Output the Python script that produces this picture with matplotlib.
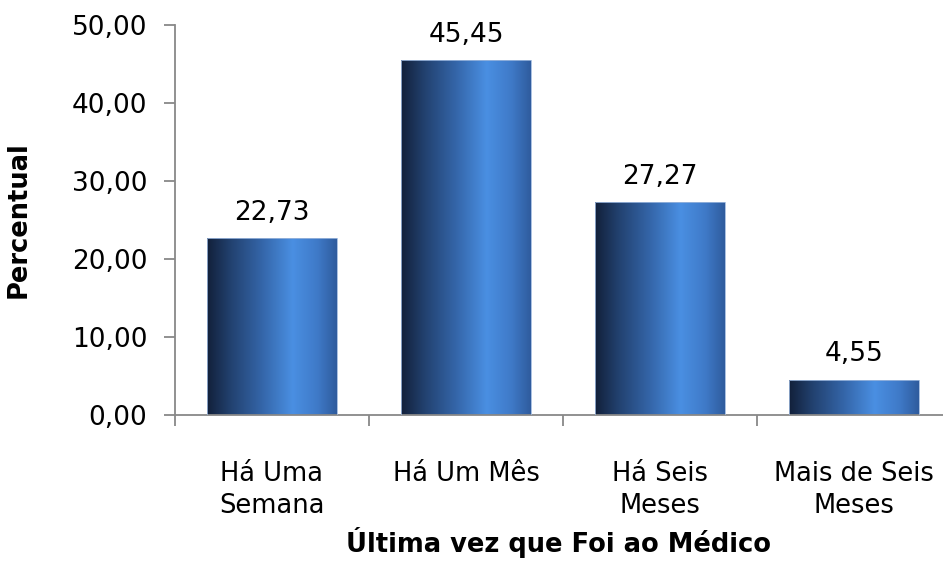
import numpy as np
import matplotlib.pyplot as plt
from matplotlib.colors import LinearSegmentedColormap
from matplotlib.patches import Rectangle

categorias = ['Há Uma\nSemana', 'Há Um Mês', 'Há Seis\nMeses', 'Mais de Seis\nMeses']
percentual = [22.73, 45.45, 27.27, 4.55]
yticks = [0, 10, 20, 30, 40, 50]

plt.rcParams['font.family'] = ['DejaVu Sans']

fig = plt.figure(figsize=(9.43, 5.61), dpi=100)
ax = fig.add_axes([175 / 943, 146 / 561, 776 / 943, 390 / 561])

# gradiente horizontal das barras
cmap = LinearSegmentedColormap.from_list('barra', [
    (0.0, '#12203a'), (0.18, '#22416f'), (0.42, '#3465a8'),
    (0.66, '#4a8fe2'), (0.85, '#3f7ac8'), (1.0, '#2f5c9e')])
grad = np.linspace(0, 1, 256).reshape(1, -1)

largura = 0.665
x = np.arange(len(categorias))
for xi, v in zip(x, percentual):
    x0 = xi - largura / 2
    im = ax.imshow(grad, cmap=cmap, aspect='auto',
                   extent=[x0, x0 + largura, 0, v], zorder=2)
    r = Rectangle((x0, 0), largura, v, transform=ax.transData,
                  facecolor='none', edgecolor='#9bb6dc', linewidth=0.6, zorder=3)
    ax.add_patch(r)
    im.set_clip_path(r)
    ax.annotate(f'{v:.2f}'.replace('.', ','), (xi, v), xytext=(0, 13),
                textcoords='offset points', ha='center', va='baseline',
                fontsize=19, color='black')

ax.set_xlim(-0.5, len(categorias) - 0.5)
ax.set_ylim(0, 50)

ax.set_yticks(yticks)
ax.set_yticklabels([f'{t:.2f}'.replace('.', ',') for t in yticks], fontsize=19)
ax.set_xticks(x)
ax.set_xticklabels(categorias, fontsize=18.5, linespacing=1.3)
ax.set_xticks(np.arange(len(categorias) + 1) - 0.5, minor=True)
ax.tick_params(axis='x', which='major', length=0, pad=33)
ax.tick_params(axis='x', which='minor', length=8, color='#888888', width=1.3)
ax.tick_params(axis='y', length=8, color='#888888', width=1.3, pad=12)

for s in ['top', 'right']:
    ax.spines[s].set_visible(False)
for s in ['left', 'bottom']:
    ax.spines[s].set_color('#888888')
    ax.spines[s].set_linewidth(1.3)

ax.set_ylabel('Percentual', fontsize=18.5, fontweight='bold')
ax.yaxis.set_label_coords((32 - 175) / 776, 0.5)
ax.set_xlabel('Última vez que Foi ao Médico', fontsize=18.5, fontweight='bold')
ax.xaxis.set_label_coords((559 - 175) / 776, -0.287)

fig.savefig('out.png', dpi=100)
